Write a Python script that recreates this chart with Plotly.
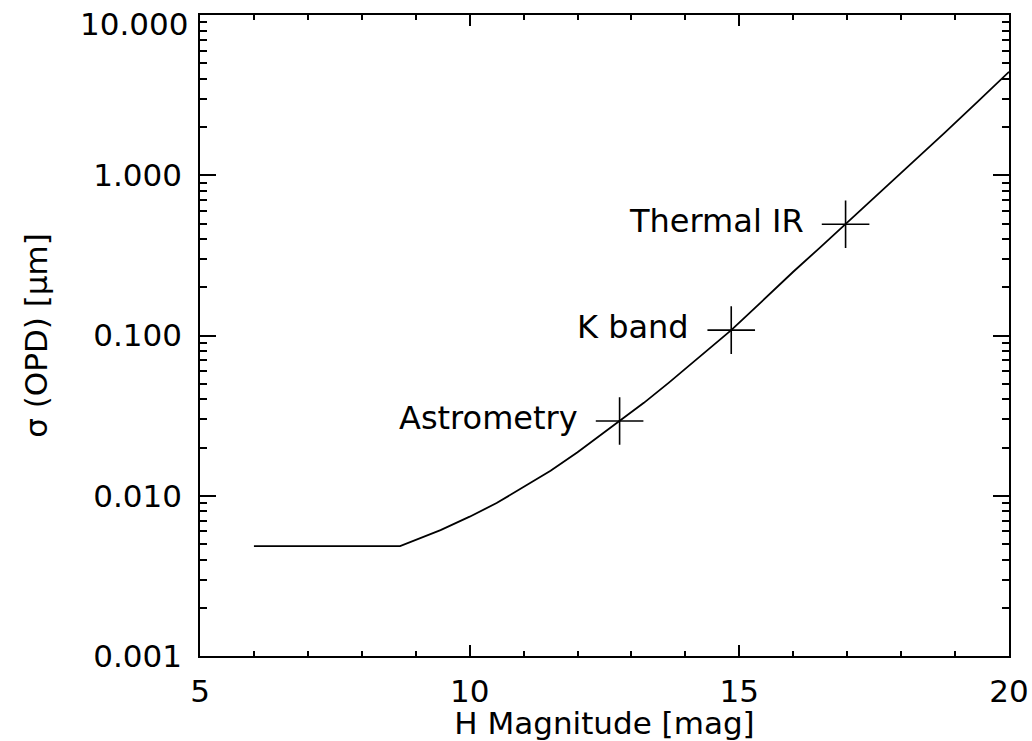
import math
import plotly.graph_objects as go

# Curve
h_mag = [6.0, 8.71, 9.46, 10.0, 10.5, 11.0, 11.5, 12.0, 12.43, 12.78, 13.23, 13.7, 14.3,
         14.85, 15.4, 16.0, 16.5, 16.97, 17.56, 18.18, 18.8, 19.42, 20.0]
sigma_opd = [0.00485, 0.00485, 0.0061, 0.0074, 0.0090, 0.0113, 0.0143, 0.0187, 0.0239, 0.0293,
             0.0380, 0.0510, 0.0755, 0.108, 0.161, 0.250, 0.355, 0.495, 0.760, 1.18, 1.83, 2.88, 4.42]

# Marked operating points
point_labels = ["Astrometry", "K band", "Thermal IR"]
point_h = [12.78, 14.85, 16.97]
point_sigma = [0.0293, 0.108, 0.495]

# Axis ticks
x_ticks = [5, 10, 15, 20]
x_minor = [6, 7, 8, 9, 11, 12, 13, 14, 16, 17, 18, 19]
y_ticks = [0.001, 0.01, 0.1, 1.0, 10.0]
y_ticktext = ["0.001", "0.010", "0.100", "1.000", "10.000"]
y_minor = [d * m for d in [0.001, 0.01, 0.1, 1.0] for m in range(2, 10)]

FONT = "DejaVu Sans"
FS_TICK = 31
FS_TEXT = 31

fig = go.Figure()
fig.add_trace(go.Scatter(x=h_mag, y=sigma_opd, mode="lines",
                         line=dict(color="black", width=1.8), showlegend=False))
fig.add_trace(go.Scatter(x=point_h, y=point_sigma, mode="markers",
                         marker=dict(symbol="cross-thin", size=34,
                                     line=dict(color="black", width=1.6)),
                         showlegend=False))

for lab, xv, yv in zip(point_labels, point_h, point_sigma):
    fig.add_annotation(x=xv, y=math.log10(yv), text=lab, showarrow=False,
                       xanchor="right", yanchor="middle", xshift=-40, yshift=3,
                       font=dict(family=FONT, size=FS_TEXT + 1, color="black"))

# The top tick label sits slightly below its tick in the reference (kept inside the page)
shown_ticktext = y_ticktext[:-1] + [""]
fig.add_annotation(xref="paper", x=0, yref="y", y=math.log10(y_ticks[-1]), text=y_ticktext[-1],
                   showarrow=False, xanchor="right", yanchor="middle", xshift=-10, yshift=-9,
                   font=dict(family=FONT, size=FS_TICK, color="black"))

axis_common = dict(showline=True, linecolor="black", linewidth=1.5, mirror="allticks",
                   ticks="inside", tickcolor="black", tickwidth=1.5,
                   showgrid=False, zeroline=False, automargin=False,
                   ticklabeloverflow="allow",
                   tickfont=dict(family=FONT, size=FS_TICK, color="black"))

fig.update_xaxes(range=[5, 20], tickvals=x_ticks, ticklen=11,
                 minor=dict(tickvals=x_minor, ticks="inside", ticklen=5, tickcolor="black", tickwidth=1.5, showgrid=False),
                 title=dict(text="H Magnitude [mag]", font=dict(family=FONT, size=FS_TEXT, color="black"), standoff=4),
                 ticklabelstandoff=7,
                 **axis_common)
fig.update_yaxes(type="log", range=[-3.0002, 1.0002], tickvals=y_ticks, ticktext=shown_ticktext, ticklen=16,
                 minor=dict(tickvals=y_minor, ticks="inside", ticklen=7, tickcolor="black", tickwidth=1.5, showgrid=False),
                 title=dict(text="σ (OPD) [μm]", font=dict(family=FONT, size=FS_TEXT, color="black"), standoff=36),
                 ticklabelstandoff=10,
                 **axis_common)

fig.update_layout(width=1032, height=741, margin=dict(l=200, r=23, t=15, b=85),
                  paper_bgcolor="white", plot_bgcolor="white",
                  font=dict(family=FONT, size=FS_TICK, color="black"))

fig.write_html("out.html", config={"displayModeBar": False},
               post_script="document.body.style.margin='0';document.body.style.overflow='hidden';")
